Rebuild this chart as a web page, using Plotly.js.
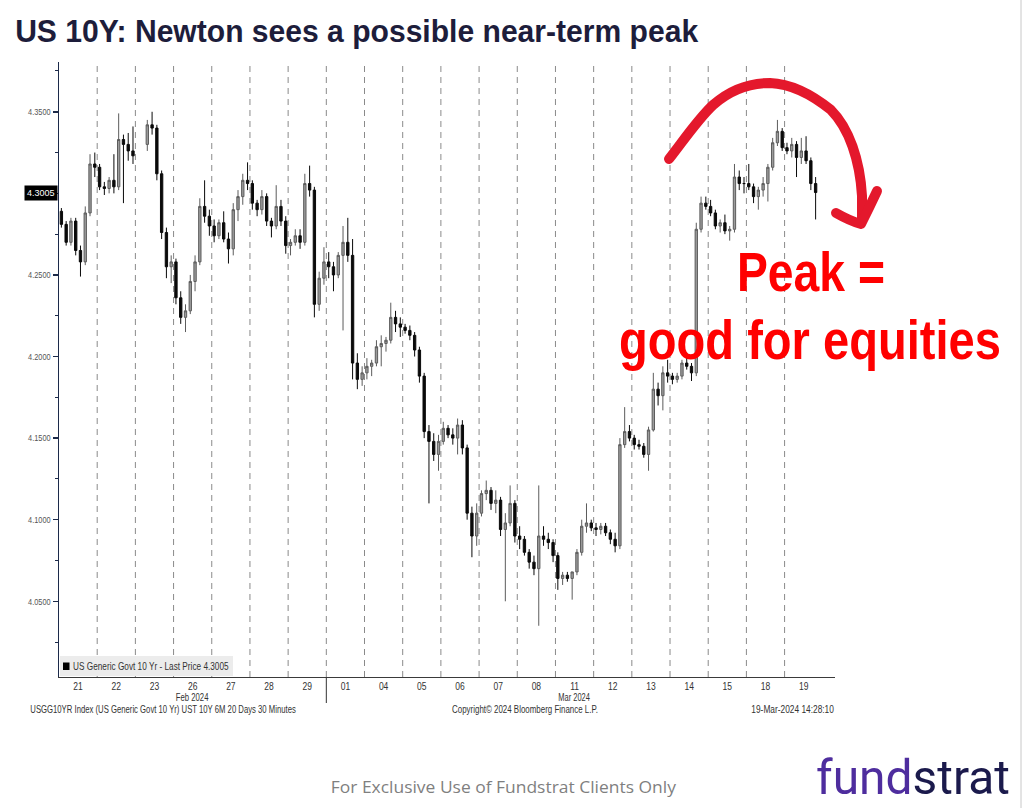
<!DOCTYPE html>
<html><head><meta charset="utf-8">
<script src="https://cdn.plot.ly/plotly-3.0.1.min.js"></script>
<style>html,body{margin:0;padding:0;background:#fff;overflow:hidden}#chart{width:1024px;height:808px}</style>
</head><body><div id="chart"></div>
<script>
// ---- data (US 10Y yield, 30-minute bars grouped ~3h per candle) ----
const dayLabels = ['21','22','23','26','27','28','29','01','04','05','06','07','08','11','12','13','14','15','18','19'];
const slotsPerDay = 8;
const open = [
 4.289,4.281,4.270,4.283,4.265,4.258,4.288,4.318,
 4.316,4.304,4.303,4.308,4.304,4.333,4.330,4.326,
 null,null,4.330,4.342,4.340,4.312,4.276,4.255,
 4.258,4.236,4.224,4.228,4.246,4.258,4.292,4.286,
 4.280,4.274,4.282,4.272,4.266,4.290,4.298,4.308,
 4.306,4.294,4.290,4.298,4.283,4.280,4.292,4.283,
 4.268,4.270,4.274,4.270,4.306,4.302,4.232,4.248,
 4.258,4.255,4.250,4.262,4.270,4.262,4.196,4.186,
 4.190,4.194,4.196,4.206,4.208,4.210,4.224,4.220,
 4.218,4.216,4.213,4.204,4.188,4.154,4.148,4.140,
 4.148,4.156,4.152,4.150,4.158,4.144,4.104,4.090,
 4.104,4.116,4.118,4.110,4.112,4.094,4.098,4.110,
 4.090,4.088,4.080,4.074,4.070,4.090,4.088,4.086,
 4.078,4.064,4.066,4.064,4.068,4.080,4.096,4.098,
 4.095,4.094,4.096,4.092,4.088,4.084,4.146,4.154,
 4.150,4.146,4.145,4.140,4.155,4.180,4.176,4.190,
 4.188,4.186,4.188,4.196,4.194,4.190,4.278,4.294,
 4.292,4.288,4.280,4.282,4.277,4.278,4.310,4.306,
 4.306,4.304,4.298,4.302,4.306,4.316,4.331,4.338,
 4.328,4.326,4.330,4.322,4.326,4.320,4.306
];
const high = [
 4.291,4.283,4.285,4.285,4.268,4.292,4.324,4.325,
 4.318,4.307,4.310,4.324,4.349,4.336,4.337,4.341,
 null,null,4.345,4.350,4.342,4.314,4.279,4.262,
 4.260,4.240,4.232,4.250,4.262,4.297,4.308,4.290,
 4.284,4.284,4.289,4.276,4.294,4.302,4.312,4.319,
 4.308,4.296,4.302,4.300,4.285,4.305,4.296,4.286,
 4.272,4.278,4.278,4.312,4.317,4.304,4.252,4.267,
 4.264,4.258,4.264,4.280,4.285,4.272,4.202,4.194,
 4.199,4.198,4.210,4.213,4.212,4.233,4.228,4.224,
 4.220,4.219,4.215,4.206,4.190,4.158,4.153,4.152,
 4.160,4.158,4.156,4.162,4.161,4.146,4.108,4.110,
 4.118,4.124,4.120,4.118,4.114,4.104,4.121,4.112,
 4.096,4.090,4.082,4.078,4.121,4.096,4.092,4.088,
 4.080,4.068,4.068,4.068,4.082,4.100,4.110,4.100,
 4.098,4.098,4.098,4.094,4.092,4.150,4.169,4.158,
 4.152,4.149,4.147,4.157,4.190,4.184,4.194,4.198,
 4.190,4.190,4.198,4.201,4.196,4.282,4.298,4.298,
 4.296,4.290,4.284,4.287,4.280,4.318,4.314,4.310,
 4.318,4.306,4.304,4.310,4.318,4.334,4.345,4.340,
 4.331,4.334,4.332,4.334,4.335,4.322,4.310
];
const low = [
 4.279,4.268,4.268,4.262,4.249,4.256,4.286,4.310,
 4.302,4.299,4.300,4.300,4.302,4.294,4.320,4.318,
 null,null,4.326,4.336,4.308,4.272,4.248,4.245,
 4.232,4.220,4.215,4.226,4.240,4.256,4.282,4.274,
 4.270,4.272,4.270,4.257,4.262,4.283,4.293,4.302,
 4.290,4.286,4.287,4.280,4.273,4.278,4.280,4.263,
 4.262,4.268,4.266,4.268,4.298,4.224,4.228,4.244,
 4.248,4.240,4.248,4.216,4.258,4.186,4.180,4.182,
 4.186,4.188,4.194,4.194,4.203,4.208,4.215,4.212,
 4.214,4.210,4.200,4.184,4.150,4.110,4.136,4.130,
 4.146,4.150,4.146,4.140,4.140,4.100,4.077,4.084,
 4.102,4.112,4.106,4.104,4.090,4.050,4.096,4.086,
 4.082,4.078,4.070,4.066,4.035,4.084,4.082,4.074,
 4.057,4.060,4.062,4.051,4.066,4.078,4.092,4.093,
 4.090,4.091,4.090,4.085,4.080,4.082,4.144,4.148,
 4.143,4.143,4.138,4.130,4.154,4.170,4.167,4.184,
 4.183,4.184,4.186,4.192,4.185,4.188,4.276,4.290,
 4.286,4.278,4.276,4.275,4.271,4.276,4.302,4.300,
 4.302,4.294,4.290,4.298,4.295,4.314,4.329,4.326,
 4.324,4.322,4.310,4.318,4.318,4.302,4.284
];
const close = [
 4.281,4.270,4.283,4.265,4.258,4.288,4.318,4.316,
 4.304,4.303,4.308,4.304,4.333,4.330,4.326,4.323,
 null,null,4.342,4.340,4.312,4.276,4.255,4.258,
 4.236,4.224,4.228,4.246,4.258,4.292,4.286,4.280,
 4.274,4.282,4.272,4.266,4.290,4.298,4.308,4.306,
 4.294,4.290,4.298,4.283,4.280,4.292,4.283,4.268,
 4.270,4.274,4.270,4.306,4.302,4.232,4.248,4.258,
 4.255,4.250,4.262,4.270,4.262,4.196,4.186,4.190,
 4.194,4.196,4.206,4.208,4.210,4.224,4.220,4.218,
 4.216,4.213,4.204,4.188,4.154,4.148,4.140,4.148,
 4.156,4.152,4.150,4.158,4.144,4.104,4.090,4.104,
 4.116,4.118,4.110,4.112,4.094,4.098,4.110,4.090,
 4.088,4.080,4.074,4.070,4.090,4.088,4.086,4.078,
 4.064,4.066,4.064,4.068,4.080,4.096,4.098,4.095,
 4.094,4.096,4.092,4.088,4.084,4.146,4.154,4.150,
 4.146,4.145,4.140,4.155,4.180,4.176,4.190,4.188,
 4.186,4.188,4.196,4.194,4.190,4.278,4.294,4.292,
 4.288,4.280,4.282,4.277,4.278,4.310,4.306,4.306,
 4.304,4.298,4.302,4.306,4.316,4.331,4.338,4.328,
 4.326,4.330,4.322,4.326,4.320,4.306,4.3005
];
const lastPrice = 4.3005;
const yTickVals = [4.05,4.10,4.15,4.20,4.25,4.30,4.35];
const yMinorVals = [4.025,4.075,4.125,4.175,4.225,4.275,4.325,4.375];

// ---- layout helpers (pixel -> paper) ----
const L=59, R=835, T=62, B=677, W=R-L, H=B-T;
const px = v => (v-L)/W, py = v => (B-v)/H;
const xMax = 20.32;
const xs = open.map((_,i)=>Math.floor(i/slotsPerDay)+((i%slotsPerDay)+0.5)/slotsPerDay);

const sans = 'Liberation Sans, Arial, sans-serif';
const trace = {
  type:'candlestick', x:xs, open:open, high:high, low:low, close:close,
  increasing:{line:{color:'#5c5c5c',width:1},fillcolor:'#9c9c9c'},
  decreasing:{line:{color:'#0a0a0a',width:1},fillcolor:'#0a0a0a'},
  whiskerwidth:0, hoverinfo:'skip', showlegend:false
};

const shapes = [];
for(let d=1; d<dayLabels.length; d++){
  shapes.push({type:'line',xref:'x',yref:'paper',x0:d,x1:d,y0:0,y1:1,
    line:{color:'#8a8a8a',width:1,dash:'6px,5px'},layer:'below'});
}
shapes.push({type:'line',xref:'x',yref:'paper',x0:7,x1:7,y0:0,y1:py(703),line:{color:'#333',width:1}});
shapes.push({type:'rect',xref:'paper',yref:'paper',x0:px(60),x1:px(233),y0:py(676),y1:py(656),
  fillcolor:'#ececec',line:{width:0},layer:'below'});
shapes.push({type:'rect',xref:'paper',yref:'paper',x0:px(63),x1:px(69.5),y0:py(670),y1:py(662.5),
  fillcolor:'#000',line:{width:0}});
shapes.push({type:'line',xref:'paper',yref:'paper',x0:px(1021),x1:px(1021),y0:py(0),y1:py(808),line:{color:'#c8c8c8',width:1}});
const P = (x,y)=>px(x).toFixed(4)+','+py(y).toFixed(4);
const arc = 'M'+P(669,159)+' C'+P(686,137)+' '+P(699,118)+' '+P(713,105)+
            ' C'+P(731,89)+' '+P(751,83)+' '+P(770,83)+
            ' C'+P(795,84)+' '+P(815,97)+' '+P(831,110)+
            ' C'+P(849,128)+' '+P(860,160)+' '+P(862,196)+
            ' L'+P(862,220);
const head = 'M'+P(836,213)+' Q'+P(850,221)+' '+P(861,224)+' Q'+P(869,208)+' '+P(877,191);
shapes.push({type:'path',xref:'paper',yref:'paper',path:arc,line:{color:'#e4182c',width:10}});
shapes.push({type:'path',xref:'paper',yref:'paper',path:head,line:{color:'#e4182c',width:10}});

const ann = (o)=>Object.assign({xref:'paper',yref:'paper',showarrow:false,borderpad:0},o);
const annotations = [
  ann({x:px(14),y:py(32),xanchor:'left',yanchor:'middle',
       text:'<b>US 10Y: Newton sees a possible near-term peak</b>',
       font:{family:sans,size:31,color:'#1d1d3b'}}),
  ann({x:0,xshift:-1,y:lastPrice,yref:'y',xanchor:'right',yanchor:'middle',text:'4.3005',
       bgcolor:'#000',borderpad:2,font:{family:sans,size:9,color:'#fff'}}),
  ann({x:px(72),y:py(666.5),xanchor:'left',yanchor:'middle',
       text:'US Generic Govt 10 Yr - Last Price 4.3005',font:{family:sans,size:10,color:'#333'}}),
  ann({x:3.5,xref:'x',y:py(697),xanchor:'center',yanchor:'middle',text:'Feb 2024',font:{family:sans,size:10,color:'#333'}}),
  ann({x:13.5,xref:'x',y:py(697),xanchor:'center',yanchor:'middle',text:'Mar 2024',font:{family:sans,size:10,color:'#333'}}),
  ann({x:px(29),y:py(709),xanchor:'left',yanchor:'middle',
       text:'USGG10YR Index (US Generic Govt 10 Yr) UST 10Y 6M 20 Days 30 Minutes',font:{family:sans,size:10,color:'#333'}}),
  ann({x:px(525),y:py(709),xanchor:'center',yanchor:'middle',
       text:'Copyright© 2024 Bloomberg Finance L.P.',font:{family:sans,size:10,color:'#333'}}),
  ann({x:px(835),y:py(709),xanchor:'right',yanchor:'middle',
       text:'19-Mar-2024 14:28:10',font:{family:sans,size:10,color:'#333'}}),
  ann({x:px(736),y:py(271),xanchor:'left',yanchor:'middle',text:'<b>Peak =</b>',
       font:{family:sans,size:56,color:'#ff0000'}}),
  ann({x:px(618),y:py(339),xanchor:'left',yanchor:'middle',text:'<b>good for equities</b>',
       font:{family:sans,size:56,color:'#ff0000'}}),
  ann({x:px(504),y:py(786),xanchor:'center',yanchor:'middle',
       text:'For Exclusive Use of Fundstrat Clients Only',font:{family:'Open Sans, sans-serif',size:16.5,color:'#7f7f7f'}}),
  ann({x:px(815),y:py(777),xanchor:'left',yanchor:'middle',
       text:'<span style="color:#4e2d9e">fund</span><span style="color:#1b1a4c">strat</span>',
       font:{family:'Roboto, Open Sans, sans-serif',size:49,color:'#1b1a4c'}})
];
// target pixel widths of texts (annotation index, width, anchor side)
const fits = [[0,684,'left'],[2,156,'left'],[3,33,'center'],[4,32,'center'],[5,266,'left'],
  [6,146,'center'],[7,83,'right'],[8,148,'left'],[9,382,'left'],[10,346,'center'],[11,194,'left']];

const layout = {
  width:1024,height:808,paper_bgcolor:'#fff',plot_bgcolor:'#fff',
  margin:{l:L,r:1024-R,t:T,b:808-B,pad:0},
  showlegend:false,dragmode:false,
  xaxis:{range:[0,xMax],tickmode:'array',tickvals:dayLabels.map((_,i)=>i+0.5),ticktext:dayLabels,
    showgrid:false,zeroline:false,showline:true,linecolor:'#3a3a3a',linewidth:1,ticks:'',
    tickfont:{family:sans,size:10,color:'#333'},rangeslider:{visible:false},fixedrange:true},
  yaxis:{range:[4.0036,4.3805],tickmode:'array',tickvals:yTickVals,
    ticktext:yTickVals.map(v=>Math.abs(v-4.30)<1e-9?'':v.toFixed(4)),
    ticks:'outside',ticklen:5,tickwidth:1.5,tickcolor:'#1c2a4a',
    showline:true,linecolor:'#1c2a4a',linewidth:1.5,showgrid:false,zeroline:false,
    tickfont:{family:sans,size:9.5,color:'#555'},fixedrange:true,
    minor:{tickvals:yMinorVals,ticks:'outside',ticklen:3,tickcolor:'#1c2a4a',tickwidth:1}},
  shapes:shapes,annotations:annotations
};
function squeeze(el,target,side){
  const w=el.getBBox().width; if(!w) return;
  el.style.transformBox='fill-box'; el.style.transformOrigin=side+' center';
  el.style.transform='scaleX('+(target/w)+')';
}
function fitLength(el,target){
  el.setAttribute('textLength',target);
  el.setAttribute('lengthAdjust','spacingAndGlyphs');
}
Plotly.newPlot('chart',[trace],layout,{staticPlot:true,displayModeBar:false}).then(()=>{
  document.querySelectorAll('.shapelayer path').forEach(p=>{
    if(parseFloat(p.style.strokeWidth)>=8){p.style.strokeLinecap='round';p.style.strokeLinejoin='round';}
  });
  fits.forEach(([i,w,side])=>{
    const t=document.querySelector('.annotation[data-index="'+i+'"] text.annotation-text');
    if(t) squeeze(t,w,side);
  });
  document.querySelectorAll('.ytick text').forEach(t=>{ if(t.textContent) fitLength(t,22.5); });
  document.querySelectorAll('.xtick text').forEach(t=>{ const w=t.getComputedTextLength(); if(w) fitLength(t,w*0.85); });
});
</script></body></html>
